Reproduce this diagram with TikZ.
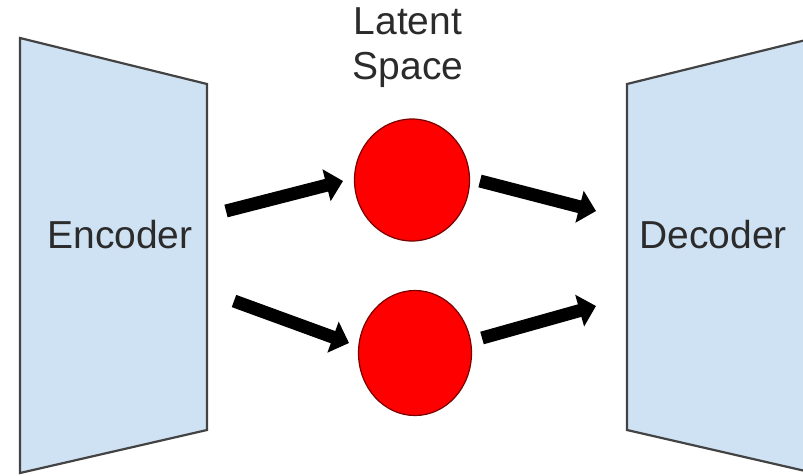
\documentclass[tikz,border=0pt]{standalone}
\usepackage{fontspec}
\setmainfont{Liberation Sans}
\usetikzlibrary{arrows.meta,shapes.geometric}
\definecolor{boxblue}{HTML}{CFE2F3}
\definecolor{boxline}{HTML}{434343}
\definecolor{txt}{HTML}{2B2B2B}
\definecolor{ringred}{HTML}{7A0000}
\begin{document}
\begin{tikzpicture}[x=1pt,y=-1pt,
  block/.style={fill=boxblue,draw=boxline,line width=2.2pt,line join=miter},
  label/.style={text=txt,font=\fontsize{39}{45}\selectfont,align=center},
  latent/.style={ellipse,fill=red,draw=ringred,line width=1.2pt,inner sep=0pt},
  flow/.style={line width=13pt,-{Triangle[width=32pt,length=17pt]}}]
\useasboundingbox (0,0) rectangle (803,475);
\clip (0,0) rectangle (803,475);
% encoder / decoder trapezoids
\draw[block] (20,38) -- (207,84) -- (207,430) -- (20,473) -- cycle;
\draw[block] (627,84) -- (814,38) -- (814,473) -- (627,430) -- cycle;
\node[label] (enc) at (120,235) {Encoder};
\node[label] (dec) at (713,235) {Decoder};
\node[label] (lat) at (408,48) {Latent\\Space};
% latent nodes
\node[latent,minimum width=115pt,minimum height=122pt] (z1) at (412,180) {};
\node[latent,minimum width=113pt,minimum height=125pt] (z2) at (415,353) {};
% arrow ends
\coordinate (a1s) at (226,211);
\coordinate (a1e) at (343,181);
\coordinate (a2s) at (480,181);
\coordinate (a2e) at (596,211);
\coordinate (a3s) at (234,301);
\coordinate (a3e) at (349,343);
\coordinate (a4s) at (482,338);
\coordinate (a4e) at (596,306);
\draw[flow] (a1s) -- (a1e);
\draw[flow] (a2s) -- (a2e);
\draw[flow] (a3s) -- (a3e);
\draw[flow] (a4s) -- (a4e);
\end{tikzpicture}
\end{document}
